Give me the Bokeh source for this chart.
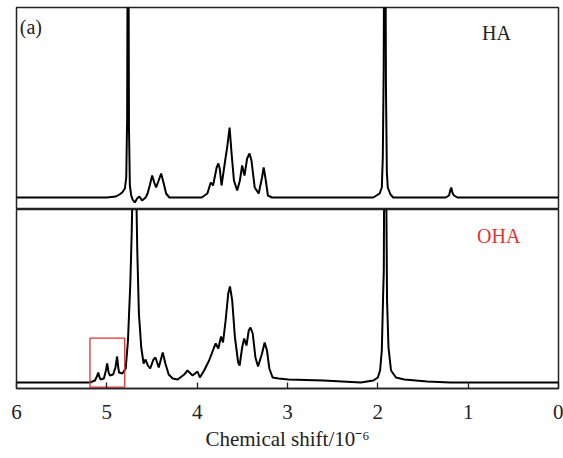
from bokeh.plotting import figure
from bokeh.layouts import column
from bokeh.models import Range1d, FixedTicker, Label
from bokeh.embed import file_html
from bokeh.resources import INLINE

# ---- data (chemical shift in ppm, intensity in arbitrary units) ----
ha_shift = [6.0, 5.5, 5.0, 4.90, 4.86, 4.83, 4.80, 4.785, 4.775, 4.768, 4.762, 4.755,
            4.745, 4.73, 4.715, 4.69, 4.665, 4.64, 4.61, 4.57, 4.549, 4.525, 4.498,
            4.475, 4.454, 4.43, 4.399, 4.37, 4.344, 4.308, 4.1, 3.95, 3.887, 3.85,
            3.824, 3.784, 3.766, 3.75, 3.73, 3.685, 3.668, 3.641, 3.619, 3.593, 3.557,
            3.527, 3.502, 3.476, 3.447, 3.42, 3.399, 3.363, 3.319, 3.282, 3.264, 3.245,
            3.217, 3.172, 2.5, 2.05, 1.98, 1.956, 1.945, 1.935, 1.928, 1.918, 1.91,
            1.90, 1.89, 1.86, 1.83, 1.25, 1.212, 1.195, 1.187, 1.175, 1.157, 1.12, 0.0]
ha_intensity = [0, 0, 0, 1, 3, 5, 9, 20, 80, 320, 320, 70,
                12, 2, -2, -5, -1, 1, -3, 0, 4, 12, 22,
                15, 10, 16, 24, 14, 4, 0, 0, 0, 4, 15,
                12, 30, 34, 29, 12, 40, 50, 70, 44, 17, 7,
                17, 32, 22, 39, 44, 37, 10, 4, 20, 30, 20,
                2, 0, 0, 0, 4, 10, 40, 130, 320, 320, 110,
                25, 10, 3, 0, 0, 2, 8, 10, 5, 2, 0, 0]

oha_shift = [6.0, 5.5, 5.25, 5.187, 5.132, 5.11, 5.095, 5.08, 5.069, 5.033, 5.01, 4.996,
             4.98, 4.967, 4.93, 4.905, 4.886, 4.875, 4.865, 4.828, 4.791, 4.766, 4.74,
             4.725, 4.718, 4.705, 4.69, 4.678, 4.672, 4.663, 4.645, 4.619, 4.593, 4.571,
             4.546, 4.52, 4.484, 4.462, 4.425, 4.381, 4.352, 4.315, 4.271, 4.216, 4.143,
             4.107, 4.051, 3.996, 3.97, 3.923, 3.868, 3.813, 3.795, 3.766, 3.736, 3.714,
             3.685, 3.656, 3.637, 3.612, 3.582, 3.546, 3.53, 3.502, 3.48, 3.454, 3.429,
             3.41, 3.385, 3.355, 3.326, 3.282, 3.253, 3.227, 3.201, 3.165, 3.099, 2.989,
             2.6, 2.188, 2.05, 2.0, 1.975, 1.956, 1.942, 1.934, 1.928, 1.915, 1.905,
             1.898, 1.882, 1.854, 1.799, 1.707, 1.451, 1.2, 0.0]
oha_intensity = [0, 0, 0, 0, 2, 6, 10, 5, 3, 4, 12, 19,
                 10, 7, 8, 15, 26, 16, 10, 9, 14, 42, 99,
                 149, 180, 320, 340, 320, 180, 132, 69, 35, 19, 23,
                 17, 14, 23, 25, 15, 30, 19, 8, 4, 3, 8,
                 12, 7, 11, 5, 12, 22, 35, 39, 34, 46, 40,
                 62, 89, 96, 82, 45, 20, 17, 35, 44, 37, 52,
                 55, 49, 25, 16, 29, 40, 32, 14, 5, 4, 3,
                 2, 0, 2, 5, 12, 32, 85, 112, 240, 250, 170,
                 82, 35, 12, 5, 3, 1, 0, 0]

tick_values = [0, 1, 2, 3, 4, 5, 6]
tick_labels = ["0", "1", "2", "3", "4", "5", "6"]
x_title = "Chemical shift/10\u207b\u2076"
highlight_box = dict(left=5.187, right=4.802, bottom=-4.7, top=44.3)

SERIF = "Liberation Serif"
RED = "#e5312f"
FRAME = "#222222"
TEXT = "#222222"

x_range = Range1d(6, 0)

top = figure(width=563, height=209, x_range=x_range, y_range=Range1d(-12, 190),
             output_backend="svg", toolbar_location=None,
             x_axis_location=None, y_axis_location=None,
             min_border_left=16, min_border_right=5, min_border_top=7, min_border_bottom=0)
bottom = figure(width=563, height=249, x_range=x_range, y_range=Range1d(-6, 173),
                output_backend="svg", toolbar_location=None,
                y_axis_location=None,
                min_border_left=16, min_border_right=5, min_border_top=0, min_border_bottom=70)

for p in (top, bottom):
    p.grid.grid_line_color = None
    p.outline_line_color = FRAME
    p.outline_line_width = 1.5
    p.background_fill_color = "white"
    p.border_fill_color = "white"

top.line(ha_shift, ha_intensity, line_color="black", line_width=2)
bottom.line(oha_shift, oha_intensity, line_color="black", line_width=2)

bottom.quad(left=[highlight_box["left"]], right=[highlight_box["right"]],
            bottom=[highlight_box["bottom"]], top=[highlight_box["top"]],
            fill_color=None, line_color=RED, line_width=1.3)

ax = bottom.xaxis[0]
ax.ticker = FixedTicker(ticks=tick_values)
ax.major_label_overrides = {v: s for v, s in zip(tick_values, tick_labels)}
ax.minor_tick_line_color = None
ax.major_tick_in = 6
ax.major_tick_out = 0
ax.major_tick_line_color = FRAME
ax.major_tick_line_width = 1.3
ax.axis_line_color = FRAME
ax.axis_line_width = 1.5
ax.major_label_text_font = SERIF
ax.major_label_text_font_size = "21px"
ax.major_label_text_color = TEXT
ax.major_label_standoff = 16
ax.axis_label = x_title
ax.axis_label_text_font = SERIF
ax.axis_label_text_font_size = "21px"
ax.axis_label_text_font_style = "normal"
ax.axis_label_text_color = TEXT
ax.axis_label_standoff = 5

top.add_layout(Label(x=5.964, y=171, text="(a)", text_font=SERIF, text_font_size="20px",
                     text_color=TEXT, text_baseline="alphabetic", text_align="left"))
top.add_layout(Label(x=0.846, y=165, text="HA", text_font=SERIF, text_font_size="20px",
                     text_color=TEXT, text_baseline="alphabetic", text_align="left"))
bottom.add_layout(Label(x=0.901, y=147, text="OHA", text_font=SERIF, text_font_size="20px",
                        text_color=RED, text_baseline="alphabetic", text_align="left"))

layout = column(top, bottom, spacing=0)
open("out.html", "w").write(file_html(layout, INLINE))
